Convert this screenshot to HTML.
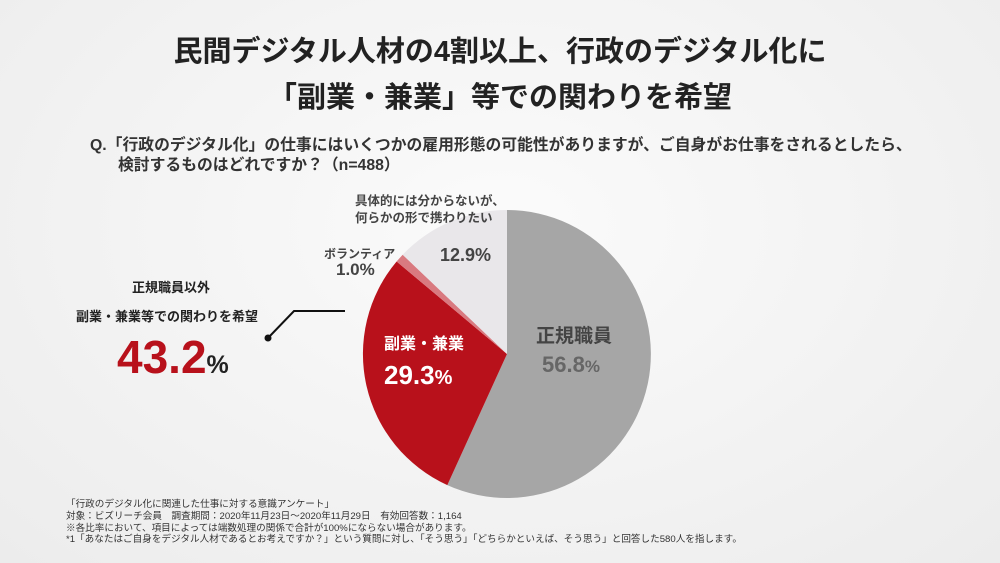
<!DOCTYPE html>
<html><head><meta charset="utf-8"><style>
body{margin:0;width:1000px;height:563px;overflow:hidden;background:radial-gradient(ellipse at 50% 40%,#fbfbfb,#ececec);font-family:"Liberation Sans","Noto Sans CJK JP",sans-serif;color:#222;position:relative}
.a{position:absolute;white-space:nowrap}
</style></head><body>
<div class="a" style="left:0;width:1000px;top:29px;text-align:center;font-size:29px;font-weight:bold;line-height:46px">民間デジタル人材の4割以上、行政のデジタル化に<br>「副業・兼業」等での関わりを希望</div>
<div class="a" style="left:90px;top:136px;font-size:15.8px;font-weight:bold;line-height:20px;color:#333">Q.「行政のデジタル化」の仕事にはいくつかの雇用形態の可能性がありますが、ご自身がお仕事をされるとしたら、<br><span style="padding-left:28px">検討するものはどれですか？（n=488）</span></div>
<svg class="a" style="left:0;top:0" width="1000" height="563">
<path d="M507,354 L507,210 A144,144 0 1 1 447.3,485.1 Z" fill="#a6a6a6"/>
<path d="M507,354 L447.3,485.1 A144,144 0 0 1 396.6,261.5 Z" fill="#b8111b"/>
<path d="M507,354 L396.6,261.5 A144,144 0 0 1 402.7,254.7 Z" fill="#d97a80"/>
<path d="M507,354 L402.7,254.7 A144,144 0 0 1 507,210 Z" fill="#e9e7ea"/>
<polyline points="268,338 294,311 345,311" fill="none" stroke="#111" stroke-width="2"/>
<circle cx="268" cy="338" r="3.5" fill="#111"/>
</svg>
<div class="a" style="left:355px;top:193px;font-size:12.5px;font-weight:bold;line-height:17px;color:#444">具体的には分からないが、<br>何らかの形で携わりたい</div>
<div class="a" style="left:440px;top:245px;font-size:18px;font-weight:bold;color:#444">12.9%</div>
<div class="a" style="left:324px;top:245px;font-size:12px;font-weight:bold;color:#444">ボランティア</div>
<div class="a" style="left:336px;top:260px;font-size:17px;font-weight:bold;color:#444">1.0%</div>
<div class="a" style="left:384px;top:330px;font-size:16px;font-weight:bold;color:#fff">副業・兼業</div>
<div class="a" style="left:384px;top:360px;font-size:26px;font-weight:bold;color:#fff">29.3<span style="font-size:20px">%</span></div>
<div class="a" style="left:536px;top:321px;font-size:19px;font-weight:bold;color:#444">正規職員</div>
<div class="a" style="left:542px;top:352px;font-size:22px;font-weight:bold;color:#666">56.8<span style="font-size:17px">%</span></div>
<div class="a" style="left:132px;top:277px;font-size:13px;font-weight:bold">正規職員以外</div>
<div class="a" style="left:76px;top:306px;font-size:13px;font-weight:bold">副業・兼業等での関わりを希望</div>
<div class="a" style="left:117px;top:330px;font-size:46px;font-weight:bold;color:#b8111b">43.2<span style="font-size:25px;color:#222">%</span></div>
<div class="a" style="left:66px;top:499px;font-size:9.6px;line-height:11.8px;color:#333">「行政のデジタル化に関連した仕事に対する意識アンケート」<br>対象：ビズリーチ会員　調査期間：2020年11月23日～2020年11月29日　有効回答数：1,164<br>※各比率において、項目によっては端数処理の関係で合計が100%にならない場合があります。<br>*1「あなたはご自身をデジタル人材であるとお考えですか？」という質問に対し、「そう思う」「どちらかといえば、そう思う」と回答した580人を指します。</div>
</body></html>
